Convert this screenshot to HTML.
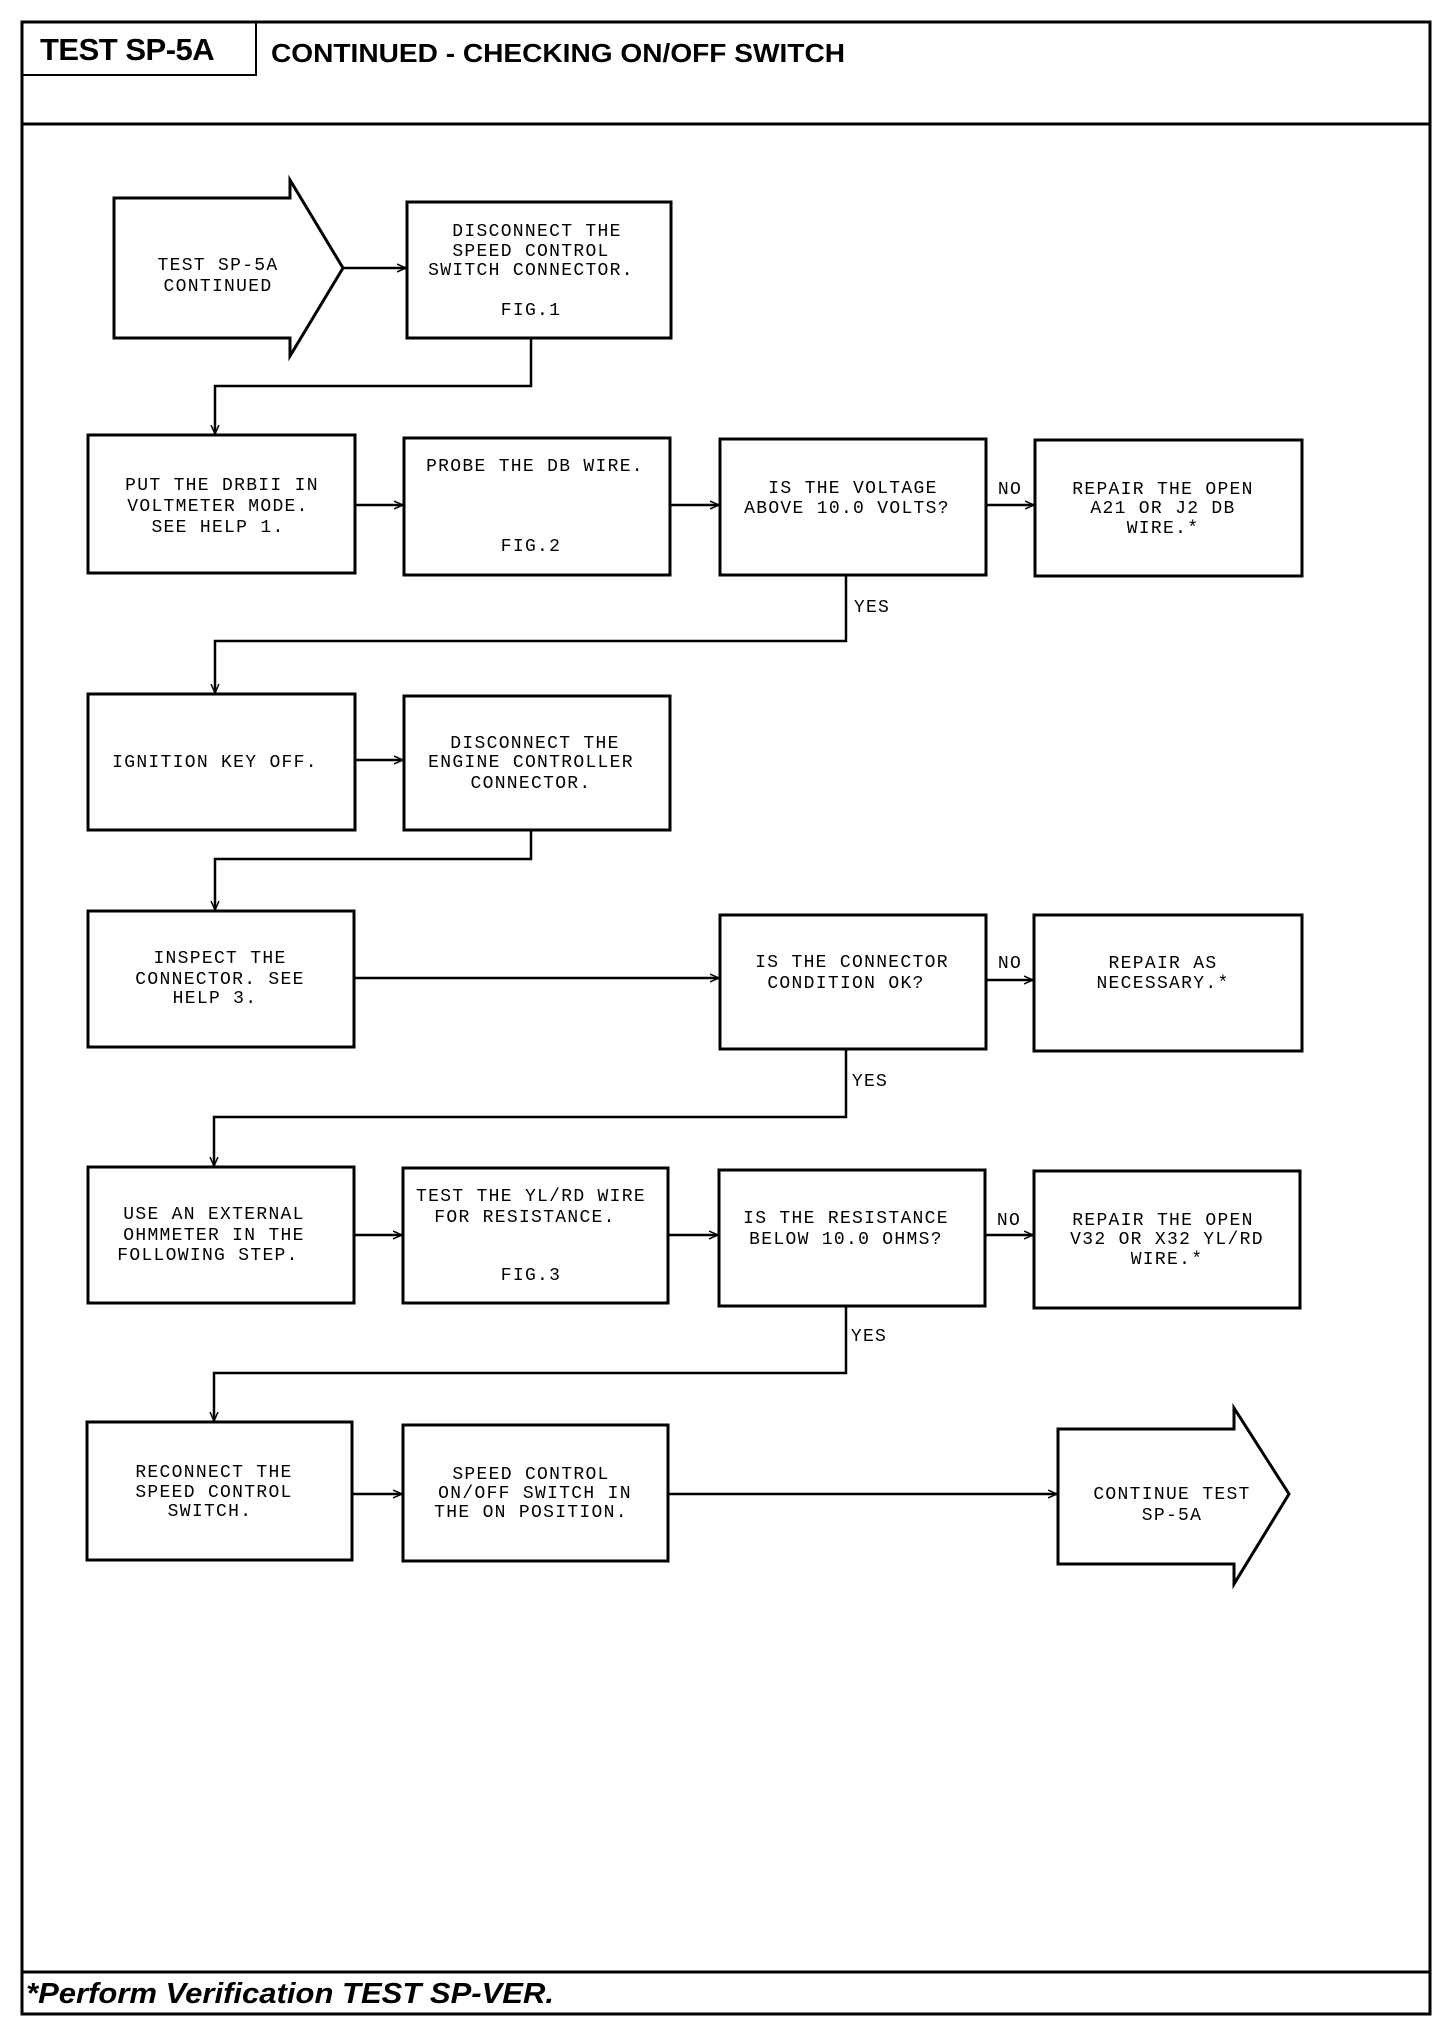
<!DOCTYPE html>
<html><head><meta charset="utf-8"><style>
html,body{margin:0;padding:0;background:#fff}
svg{display:block}
.t{font-family:"Liberation Mono",monospace;font-size:18px;letter-spacing:1.3px;text-anchor:middle;fill:#000}
.b{fill:#fff;stroke:#000;stroke-width:3}
.l{fill:none;stroke:#000;stroke-width:2.5}
</style></head><body>
<svg width="1456" height="2024" viewBox="0 0 1456 2024" xmlns="http://www.w3.org/2000/svg">
<defs><marker id="a" markerWidth="10" markerHeight="10" refX="9" refY="5" orient="auto" markerUnits="userSpaceOnUse"><path d="M0,1 L9,5 L0,9" fill="none" stroke="#000" stroke-width="1.5"/></marker></defs>
<!-- frame -->
<rect x="22" y="22" width="1408" height="1992" fill="none" stroke="#000" stroke-width="3"/>
<line x1="22" y1="124" x2="1430" y2="124" stroke="#000" stroke-width="3"/>
<line x1="22" y1="1972" x2="1430" y2="1972" stroke="#000" stroke-width="3"/>
<rect x="22" y="22" width="234" height="53" fill="none" stroke="#000" stroke-width="2"/>
<text x="40" y="60" font-family="Liberation Sans,sans-serif" font-weight="bold" font-size="31" letter-spacing="-0.5">TEST SP-5A</text>
<text x="271" y="62" font-family="Liberation Sans,sans-serif" font-weight="bold" font-size="26" textLength="574" lengthAdjust="spacingAndGlyphs">CONTINUED - CHECKING ON/OFF SWITCH</text>
<text x="26" y="2003" font-family="Liberation Sans,sans-serif" font-weight="bold" font-style="italic" font-size="29" textLength="528" lengthAdjust="spacingAndGlyphs">*Perform Verification TEST SP-VER.</text>

<!-- start arrow -->
<polygon class="b" points="114,198 290,198 290,180 343,268 290,356 290,338 114,338"/>
<text class="t" x="218" y="270">TEST SP-5A</text>
<text class="t" x="218" y="291">CONTINUED</text>
<line class="l" x1="343" y1="268" x2="406" y2="268" marker-end="url(#a)"/>
<rect class="b" x="407" y="202" width="264" height="136"/>
<text class="t" x="537" y="236">DISCONNECT THE</text>
<text class="t" x="531" y="256">SPEED CONTROL</text>
<text class="t" x="531" y="275">SWITCH CONNECTOR.</text>
<text class="t" x="531" y="315">FIG.1</text>
<polyline class="l" points="531,338 531,386 215,386 215,434" marker-end="url(#a)"/>

<!-- row2 -->
<rect class="b" x="88" y="435" width="267" height="138"/>
<text class="t" x="222" y="490">PUT THE DRBII IN</text>
<text class="t" x="218" y="511">VOLTMETER MODE.</text>
<text class="t" x="218" y="532">SEE HELP 1.</text>
<line class="l" x1="355" y1="505" x2="403" y2="505" marker-end="url(#a)"/>
<rect class="b" x="404" y="438" width="266" height="137"/>
<text class="t" x="535" y="471">PROBE THE DB WIRE.</text>
<text class="t" x="531" y="551">FIG.2</text>
<line class="l" x1="670" y1="505" x2="719" y2="505" marker-end="url(#a)"/>
<rect class="b" x="720" y="439" width="266" height="136"/>
<text class="t" x="853" y="493">IS THE VOLTAGE</text>
<text class="t" x="847" y="513">ABOVE 10.0 VOLTS?</text>
<line class="l" x1="986" y1="505" x2="1034" y2="505" marker-end="url(#a)"/>
<text class="t" x="1010" y="494">NO</text>
<rect class="b" x="1035" y="440" width="267" height="136"/>
<text class="t" x="1163" y="494">REPAIR THE OPEN</text>
<text class="t" x="1163" y="513">A21 OR J2 DB</text>
<text class="t" x="1163" y="533">WIRE.*</text>
<polyline class="l" points="846,575 846,641 215,641 215,693" marker-end="url(#a)"/>
<text class="t" x="872" y="612">YES</text>

<!-- row3 -->
<rect class="b" x="88" y="694" width="267" height="136"/>
<text class="t" x="215" y="767">IGNITION KEY OFF.</text>
<line class="l" x1="355" y1="760" x2="403" y2="760" marker-end="url(#a)"/>
<rect class="b" x="404" y="696" width="266" height="134"/>
<text class="t" x="535" y="748">DISCONNECT THE</text>
<text class="t" x="531" y="767">ENGINE CONTROLLER</text>
<text class="t" x="531" y="788">CONNECTOR.</text>
<polyline class="l" points="531,830 531,859 215,859 215,910" marker-end="url(#a)"/>

<!-- row4 -->
<rect class="b" x="88" y="911" width="266" height="136"/>
<text class="t" x="220" y="963">INSPECT THE</text>
<text class="t" x="220" y="984">CONNECTOR. SEE</text>
<text class="t" x="215" y="1003">HELP 3.</text>
<line class="l" x1="354" y1="978" x2="719" y2="978" marker-end="url(#a)"/>
<rect class="b" x="720" y="915" width="266" height="134"/>
<text class="t" x="852" y="967">IS THE CONNECTOR</text>
<text class="t" x="846" y="988">CONDITION OK?</text>
<line class="l" x1="986" y1="980" x2="1033" y2="980" marker-end="url(#a)"/>
<text class="t" x="1010" y="968">NO</text>
<rect class="b" x="1034" y="915" width="268" height="136"/>
<text class="t" x="1163" y="968">REPAIR AS</text>
<text class="t" x="1163" y="988">NECESSARY.*</text>
<polyline class="l" points="846,1049 846,1117 214,1117 214,1166" marker-end="url(#a)"/>
<text class="t" x="870" y="1086">YES</text>

<!-- row5 -->
<rect class="b" x="88" y="1167" width="266" height="136"/>
<text class="t" x="214" y="1219">USE AN EXTERNAL</text>
<text class="t" x="214" y="1240">OHMMETER IN THE</text>
<text class="t" x="208" y="1260">FOLLOWING STEP.</text>
<line class="l" x1="354" y1="1235" x2="402" y2="1235" marker-end="url(#a)"/>
<rect class="b" x="403" y="1168" width="265" height="135"/>
<text class="t" x="531" y="1201">TEST THE YL/RD WIRE</text>
<text class="t" x="525" y="1222">FOR RESISTANCE.</text>
<text class="t" x="531" y="1280">FIG.3</text>
<line class="l" x1="668" y1="1235" x2="718" y2="1235" marker-end="url(#a)"/>
<rect class="b" x="719" y="1170" width="266" height="136"/>
<text class="t" x="846" y="1223">IS THE RESISTANCE</text>
<text class="t" x="846" y="1244">BELOW 10.0 OHMS?</text>
<line class="l" x1="985" y1="1235" x2="1033" y2="1235" marker-end="url(#a)"/>
<text class="t" x="1009" y="1225">NO</text>
<rect class="b" x="1034" y="1171" width="266" height="137"/>
<text class="t" x="1163" y="1225">REPAIR THE OPEN</text>
<text class="t" x="1167" y="1244">V32 OR X32 YL/RD</text>
<text class="t" x="1167" y="1264">WIRE.*</text>
<polyline class="l" points="846,1306 846,1373 214,1373 214,1421" marker-end="url(#a)"/>
<text class="t" x="869" y="1341">YES</text>

<!-- row6 -->
<rect class="b" x="87" y="1422" width="265" height="138"/>
<text class="t" x="214" y="1477">RECONNECT THE</text>
<text class="t" x="214" y="1497">SPEED CONTROL</text>
<text class="t" x="210" y="1516">SWITCH.</text>
<line class="l" x1="352" y1="1494" x2="402" y2="1494" marker-end="url(#a)"/>
<rect class="b" x="403" y="1425" width="265" height="136"/>
<text class="t" x="531" y="1479">SPEED CONTROL</text>
<text class="t" x="535" y="1498">ON/OFF SWITCH IN</text>
<text class="t" x="531" y="1517">THE ON POSITION.</text>
<line class="l" x1="668" y1="1494" x2="1057" y2="1494" marker-end="url(#a)"/>
<polygon class="b" points="1058,1429 1234,1429 1234,1408 1289,1494 1234,1584 1234,1564 1058,1564"/>
<text class="t" x="1172" y="1499">CONTINUE TEST</text>
<text class="t" x="1172" y="1520">SP-5A</text>
</svg>
</body></html>
